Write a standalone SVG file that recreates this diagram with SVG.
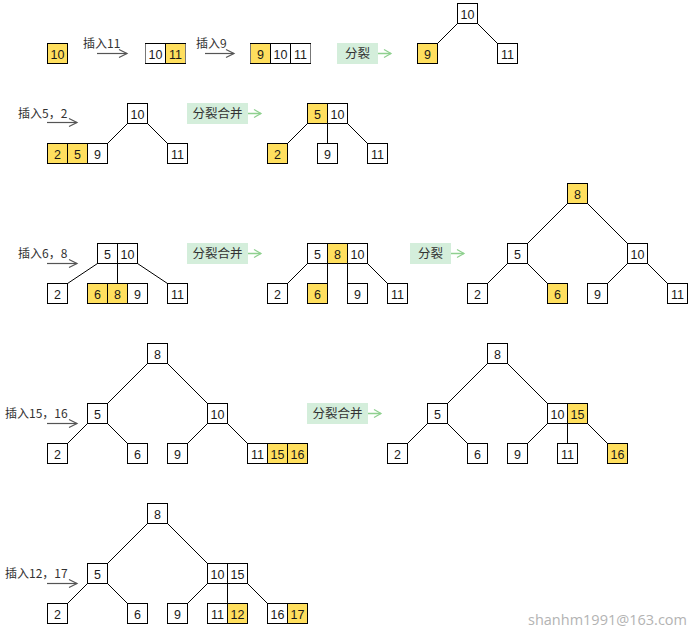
<svg xmlns="http://www.w3.org/2000/svg" width="691" height="629" viewBox="0 0 691 629">
<defs>
<style>
.w{fill:#fff;stroke:#000;stroke-width:1}
.y{fill:#ffdf5e;stroke:#000;stroke-width:1}
.n{font-family:"Liberation Sans","Noto Sans CJK SC",sans-serif;font-size:12.5px;fill:#1a1a1a;text-anchor:middle}
.lb{font-family:"Noto Sans CJK SC","Liberation Sans",sans-serif;font-size:12px;fill:#333}
.gl{fill:#d4eedb}
.gt{font-family:"Noto Sans CJK SC","Liberation Sans",sans-serif;font-size:12.5px;fill:#333;text-anchor:middle}
.ed{stroke:#000;stroke-width:1;fill:none}
.ar{stroke:#555;stroke-width:1.2;fill:none;marker-end:url(#ah)}
.ga{stroke:#8fd08f;stroke-width:1.5;fill:none;marker-end:url(#gh)}
.gy{stroke:#777;stroke-width:1}
</style>
<marker id="ah" markerUnits="userSpaceOnUse" markerWidth="10" markerHeight="10" refX="8" refY="4" orient="auto" overflow="visible">
<path d="M0,0 L8,4 L0,8" fill="none" stroke="#555" stroke-width="1.2"/>
</marker>
<marker id="gh" markerUnits="userSpaceOnUse" markerWidth="10" markerHeight="10" refX="7" refY="4" orient="auto" overflow="visible">
<path d="M0,0 L7,4 L0,8" fill="none" stroke="#8fd08f" stroke-width="1.2"/>
</marker>
</defs>
<rect width="691" height="629" fill="#fff"/>

<g id="connectors">
<!-- row1 -->
<path class="ed" d="M457.5,23.5L437.5,43.5M477.5,23.5L497.5,43.5"/>
<!-- row2 -->
<path class="ed" d="M127.5,123.5L107.5,143.5M147.5,123.5L167.5,143.5"/>
<path class="ed" d="M307.5,123.5L287.5,143.5M327.5,123.5L327.5,143.5M347.5,123.5L367.5,143.5"/>
<!-- row3 -->
<path class="ed" d="M97.5,263.5L67.5,283.5M117.5,263.5L117.5,283.5M137.5,263.5L167.5,283.5"/>
<path class="ed" d="M307.5,263.5L287.5,283.5M327.5,263.5L327.5,283.5M347.5,263.5L347.5,283.5M367.5,263.5L387.5,283.5"/>
<path class="ed" d="M567.5,203.5L527.5,243.5M587.5,203.5L627.5,243.5M507.5,263.5L487.5,283.5M527.5,263.5L547.5,283.5M627.5,263.5L607.5,283.5M647.5,263.5L667.5,283.5"/>
<!-- row4 -->
<path class="ed" d="M147.5,363.5L107.5,403.5M167.5,363.5L207.5,403.5M87.5,423.5L67.5,443.5M107.5,423.5L127.5,443.5M207.5,423.5L187.5,443.5M227.5,423.5L247.5,443.5"/>
<path class="ed" d="M487.5,363.5L447.5,403.5M507.5,363.5L547.5,403.5M427.5,423.5L407.5,443.5M447.5,423.5L467.5,443.5M547.5,423.5L527.5,443.5M567.5,423.5L567.5,443.5M587.5,423.5L607.5,443.5"/>
<!-- row5 -->
<path class="ed" d="M147.5,523.5L107.5,563.5M167.5,523.5L207.5,563.5M87.5,583.5L67.5,603.5M107.5,583.5L127.5,603.5M207.5,583.5L187.5,603.5M227.5,583.5L227.5,603.5M247.5,583.5L267.5,603.5"/>
<!-- step arrows -->
<line class="ar" x1="97" y1="53.5" x2="127" y2="53.5"/>
<line class="ar" x1="205" y1="53.5" x2="234" y2="53.5"/>
<line class="ar" x1="47" y1="122.5" x2="77" y2="122.5"/>
<line class="ar" x1="47" y1="263.5" x2="77" y2="263.5"/>
<line class="ar" x1="47" y1="423.5" x2="77" y2="423.5"/>
<line class="ar" x1="47" y1="583.5" x2="77" y2="583.5"/>
<line class="ga" x1="378" y1="53.5" x2="391" y2="53.5"/>
<line class="ga" x1="247" y1="113.5" x2="261" y2="113.5"/>
<line class="ga" x1="247" y1="253.5" x2="261" y2="253.5"/>
<line class="ga" x1="450" y1="253.5" x2="464" y2="253.5"/>
<line class="ga" x1="367" y1="413.5" x2="381" y2="413.5"/>
</g>

<g id="labels">
<text class="lb" x="83" y="48">插入11</text>
<text class="lb" x="196" y="48">插入9</text>
<text class="lb" x="18" y="118">插入5，2</text>
<text class="lb" x="18" y="258">插入6，8</text>
<text class="lb" x="5" y="418">插入15，16</text>
<text class="lb" x="5" y="578">插入12，17</text>
<g id="op1"><rect class="gl" x="337" y="43" width="41" height="21"/><text class="gt" x="357.5" y="58">分裂</text></g>
<g id="op2"><rect class="gl" x="187" y="103" width="61" height="21"/><text class="gt" x="217.5" y="118">分裂合并</text></g>
<g id="op3"><rect class="gl" x="187" y="243" width="61" height="21"/><text class="gt" x="217.5" y="258">分裂合并</text></g>
<g id="op4"><rect class="gl" x="410" y="243" width="41" height="21"/><text class="gt" x="430.5" y="258">分裂</text></g>
<g id="op5"><rect class="gl" x="307" y="403" width="61" height="21"/><text class="gt" x="337.5" y="418">分裂合并</text></g>
</g>

<!-- Row 1 -->
<g id="r1a"><rect class="y" x="47.5" y="43.5" width="20" height="20"/><text class="n" x="57.5" y="58.5">10</text></g>
<g id="r1b"><rect class="w" x="145.5" y="43.5" width="20" height="20"/><text class="n" x="155.5" y="58.5">10</text><rect class="y" x="165.5" y="43.5" width="20" height="20"/><text class="n" x="175.5" y="58.5">11</text><line class="gy" x1="145.5" y1="44" x2="145.5" y2="63"/><line class="gy" x1="185.5" y1="44" x2="185.5" y2="63"/></g>
<g id="r1c"><rect class="y" x="250.5" y="43.5" width="20" height="20"/><text class="n" x="260.5" y="58.5">9</text><rect class="w" x="270.5" y="43.5" width="20" height="20"/><text class="n" x="280.5" y="58.5">10</text><rect class="w" x="290.5" y="43.5" width="20" height="20"/><text class="n" x="300.5" y="58.5">11</text><line class="gy" x1="250.5" y1="44" x2="250.5" y2="63"/><line class="gy" x1="310.5" y1="44" x2="310.5" y2="63"/></g>
<g id="r1root"><rect class="w" x="457.5" y="3.5" width="20" height="20"/><text class="n" x="467.5" y="18.5">10</text></g>
<g id="r1l"><rect class="y" x="417.5" y="43.5" width="20" height="20"/><text class="n" x="427.5" y="58.5">9</text></g>
<g id="r1r"><rect class="w" x="497.5" y="43.5" width="20" height="20"/><text class="n" x="507.5" y="58.5">11</text></g>

<!-- Row 2 -->
<g id="r2aroot"><rect class="w" x="127.5" y="103.5" width="20" height="20"/><text class="n" x="137.5" y="118.5">10</text></g>
<g id="r2al"><rect class="y" x="47.5" y="143.5" width="20" height="20"/><text class="n" x="57.5" y="158.5">2</text><rect class="y" x="67.5" y="143.5" width="20" height="20"/><text class="n" x="77.5" y="158.5">5</text><rect class="w" x="87.5" y="143.5" width="20" height="20"/><text class="n" x="97.5" y="158.5">9</text></g>
<g id="r2ar"><rect class="w" x="167.5" y="143.5" width="20" height="20"/><text class="n" x="177.5" y="158.5">11</text></g>
<g id="r2broot"><rect class="y" x="307.5" y="103.5" width="20" height="20"/><text class="n" x="317.5" y="118.5">5</text><rect class="w" x="327.5" y="103.5" width="20" height="20"/><text class="n" x="337.5" y="118.5">10</text></g>
<g id="r2b1"><rect class="y" x="267.5" y="143.5" width="20" height="20"/><text class="n" x="277.5" y="158.5">2</text></g>
<g id="r2b2"><rect class="w" x="317.5" y="143.5" width="20" height="20"/><text class="n" x="327.5" y="158.5">9</text></g>
<g id="r2b3"><rect class="w" x="367.5" y="143.5" width="20" height="20"/><text class="n" x="377.5" y="158.5">11</text></g>

<!-- Row 3 -->
<g id="r3aroot"><rect class="w" x="97.5" y="243.5" width="20" height="20"/><text class="n" x="107.5" y="258.5">5</text><rect class="w" x="117.5" y="243.5" width="20" height="20"/><text class="n" x="127.5" y="258.5">10</text></g>
<g id="r3a1"><rect class="w" x="47.5" y="283.5" width="20" height="20"/><text class="n" x="57.5" y="298.5">2</text></g>
<g id="r3a2"><rect class="y" x="87.5" y="283.5" width="20" height="20"/><text class="n" x="97.5" y="298.5">6</text><rect class="y" x="107.5" y="283.5" width="20" height="20"/><text class="n" x="117.5" y="298.5">8</text><rect class="w" x="127.5" y="283.5" width="20" height="20"/><text class="n" x="137.5" y="298.5">9</text></g>
<g id="r3a3"><rect class="w" x="167.5" y="283.5" width="20" height="20"/><text class="n" x="177.5" y="298.5">11</text></g>
<g id="r3broot"><rect class="w" x="307.5" y="243.5" width="20" height="20"/><text class="n" x="317.5" y="258.5">5</text><rect class="y" x="327.5" y="243.5" width="20" height="20"/><text class="n" x="337.5" y="258.5">8</text><rect class="w" x="347.5" y="243.5" width="20" height="20"/><text class="n" x="357.5" y="258.5">10</text></g>
<g id="r3b1"><rect class="w" x="267.5" y="283.5" width="20" height="20"/><text class="n" x="277.5" y="298.5">2</text></g>
<g id="r3b2"><rect class="y" x="307.5" y="283.5" width="20" height="20"/><text class="n" x="317.5" y="298.5">6</text></g>
<g id="r3b3"><rect class="w" x="347.5" y="283.5" width="20" height="20"/><text class="n" x="357.5" y="298.5">9</text></g>
<g id="r3b4"><rect class="w" x="387.5" y="283.5" width="20" height="20"/><text class="n" x="397.5" y="298.5">11</text></g>
<g id="r3croot"><rect class="y" x="567.5" y="183.5" width="20" height="20"/><text class="n" x="577.5" y="198.5">8</text></g>
<g id="r3c5"><rect class="w" x="507.5" y="243.5" width="20" height="20"/><text class="n" x="517.5" y="258.5">5</text></g>
<g id="r3c10"><rect class="w" x="627.5" y="243.5" width="20" height="20"/><text class="n" x="637.5" y="258.5">10</text></g>
<g id="r3c2"><rect class="w" x="467.5" y="283.5" width="20" height="20"/><text class="n" x="477.5" y="298.5">2</text></g>
<g id="r3c6"><rect class="y" x="547.5" y="283.5" width="20" height="20"/><text class="n" x="557.5" y="298.5">6</text></g>
<g id="r3c9"><rect class="w" x="587.5" y="283.5" width="20" height="20"/><text class="n" x="597.5" y="298.5">9</text></g>
<g id="r3c11"><rect class="w" x="667.5" y="283.5" width="20" height="20"/><text class="n" x="677.5" y="298.5">11</text></g>

<!-- Row 4 -->
<g id="r4aroot"><rect class="w" x="147.5" y="343.5" width="20" height="20"/><text class="n" x="157.5" y="358.5">8</text></g>
<g id="r4a5"><rect class="w" x="87.5" y="403.5" width="20" height="20"/><text class="n" x="97.5" y="418.5">5</text></g>
<g id="r4a10"><rect class="w" x="207.5" y="403.5" width="20" height="20"/><text class="n" x="217.5" y="418.5">10</text></g>
<g id="r4a2"><rect class="w" x="47.5" y="443.5" width="20" height="20"/><text class="n" x="57.5" y="458.5">2</text></g>
<g id="r4a6"><rect class="w" x="127.5" y="443.5" width="20" height="20"/><text class="n" x="137.5" y="458.5">6</text></g>
<g id="r4a9"><rect class="w" x="167.5" y="443.5" width="20" height="20"/><text class="n" x="177.5" y="458.5">9</text></g>
<g id="r4a11"><rect class="w" x="247.5" y="443.5" width="20" height="20"/><text class="n" x="257.5" y="458.5">11</text><rect class="y" x="267.5" y="443.5" width="20" height="20"/><text class="n" x="277.5" y="458.5">15</text><rect class="y" x="287.5" y="443.5" width="20" height="20"/><text class="n" x="297.5" y="458.5">16</text></g>
<g id="r4broot"><rect class="w" x="487.5" y="343.5" width="20" height="20"/><text class="n" x="497.5" y="358.5">8</text></g>
<g id="r4b5"><rect class="w" x="427.5" y="403.5" width="20" height="20"/><text class="n" x="437.5" y="418.5">5</text></g>
<g id="r4b10"><rect class="w" x="547.5" y="403.5" width="20" height="20"/><text class="n" x="557.5" y="418.5">10</text><rect class="y" x="567.5" y="403.5" width="20" height="20"/><text class="n" x="577.5" y="418.5">15</text></g>
<g id="r4b2"><rect class="w" x="387.5" y="443.5" width="20" height="20"/><text class="n" x="397.5" y="458.5">2</text></g>
<g id="r4b6"><rect class="w" x="467.5" y="443.5" width="20" height="20"/><text class="n" x="477.5" y="458.5">6</text></g>
<g id="r4b9"><rect class="w" x="507.5" y="443.5" width="20" height="20"/><text class="n" x="517.5" y="458.5">9</text></g>
<g id="r4b11"><rect class="w" x="557.5" y="443.5" width="20" height="20"/><text class="n" x="567.5" y="458.5">11</text></g>
<g id="r4b16"><rect class="y" x="607.5" y="443.5" width="20" height="20"/><text class="n" x="617.5" y="458.5">16</text></g>

<!-- Row 5 -->
<g id="r5root"><rect class="w" x="147.5" y="503.5" width="20" height="20"/><text class="n" x="157.5" y="518.5">8</text></g>
<g id="r5n5"><rect class="w" x="87.5" y="563.5" width="20" height="20"/><text class="n" x="97.5" y="578.5">5</text></g>
<g id="r5n10"><rect class="w" x="207.5" y="563.5" width="20" height="20"/><text class="n" x="217.5" y="578.5">10</text><rect class="w" x="227.5" y="563.5" width="20" height="20"/><text class="n" x="237.5" y="578.5">15</text></g>
<g id="r5n2"><rect class="w" x="47.5" y="603.5" width="20" height="20"/><text class="n" x="57.5" y="618.5">2</text></g>
<g id="r5n6"><rect class="w" x="127.5" y="603.5" width="20" height="20"/><text class="n" x="137.5" y="618.5">6</text></g>
<g id="r5n9"><rect class="w" x="167.5" y="603.5" width="20" height="20"/><text class="n" x="177.5" y="618.5">9</text></g>
<g id="r5n11"><rect class="w" x="207.5" y="603.5" width="20" height="20"/><text class="n" x="217.5" y="618.5">11</text><rect class="y" x="227.5" y="603.5" width="20" height="20"/><text class="n" x="237.5" y="618.5">12</text></g>
<g id="r5n16"><rect class="w" x="267.5" y="603.5" width="20" height="20"/><text class="n" x="277.5" y="618.5">16</text><rect class="y" x="287.5" y="603.5" width="20" height="20"/><text class="n" x="297.5" y="618.5">17</text></g>

<text x="687" y="625" font-family="'Open Sans','Liberation Sans',sans-serif" font-size="14.5" fill="#b3b3b3" text-anchor="end">shanhm1991@163.com</text>
</svg>
